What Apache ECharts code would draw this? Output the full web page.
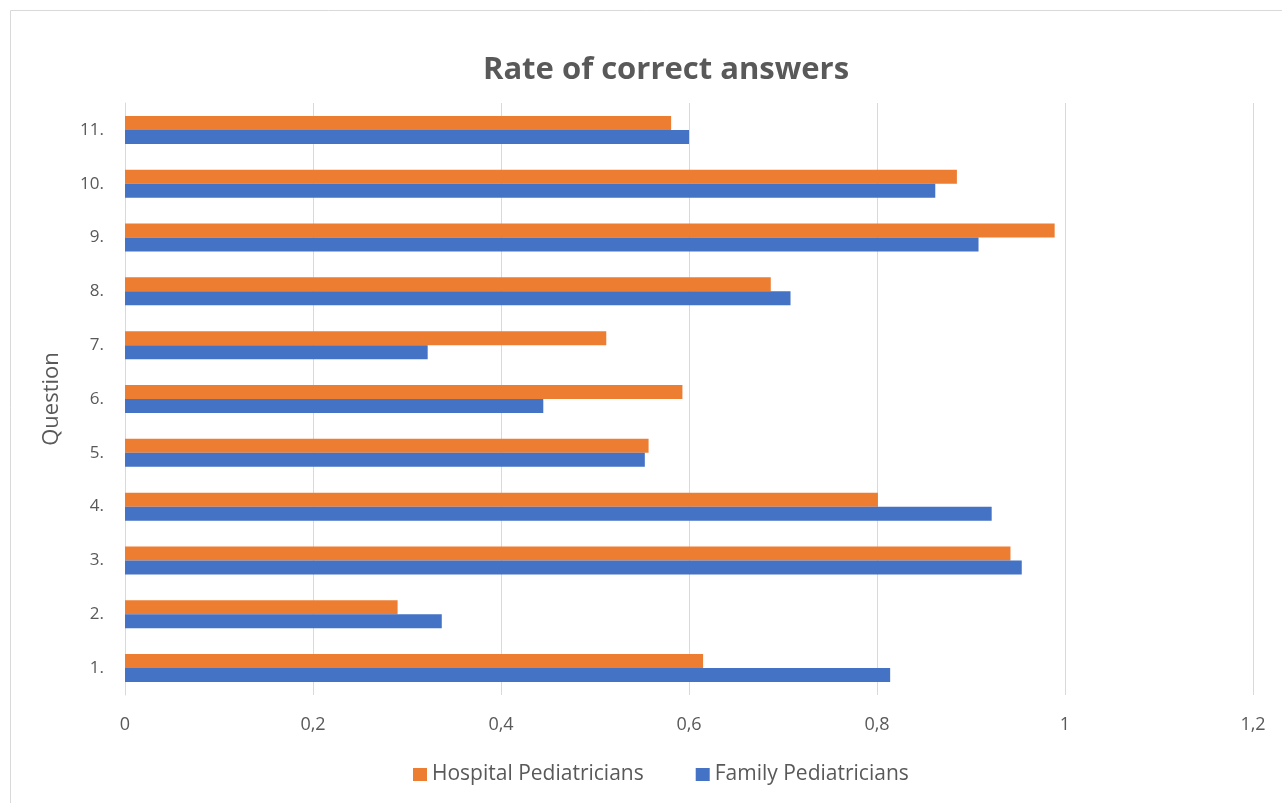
<!DOCTYPE html>
<html>
<head>
<meta charset="utf-8">
<script src="https://cdn.jsdelivr.net/npm/echarts@6/dist/echarts.min.js"></script>
<style>
  html, body { margin: 0; padding: 0; background: #fff; }
  #chart { width: 1282px; height: 803px; }
</style>
</head>
<body>
<div id="chart"></div>
<script>
const categories = ['1.', '2.', '3.', '4.', '5.', '6.', '7.', '8.', '9.', '10.', '11.'];
const familyPediatricians = [0.814, 0.337, 0.954, 0.922, 0.553, 0.445, 0.322, 0.708, 0.908, 0.862, 0.600];
const hospitalPediatricians = [0.615, 0.290, 0.942, 0.801, 0.557, 0.593, 0.512, 0.687, 0.989, 0.885, 0.581];
const xTicks = [0, 0.2, 0.4, 0.6, 0.8, 1, 1.2];

const chart = echarts.init(document.getElementById('chart'), null, { renderer: 'canvas' });
const font = '"Open Sans", "Noto Sans", sans-serif';
const option = {
  animation: false,
  backgroundColor: '#ffffff',
  graphic: [{
    type: 'rect',
    shape: { x: 10.5, y: 10.5, width: 1300, height: 820 },
    style: { fill: 'none', stroke: '#d9d9d9', lineWidth: 1 },
    silent: true
  }],
  title: {
    text: 'Rate of correct answers',
    left: 661,
    textAlign: 'center',
    top: 50,
    textStyle: { fontFamily: font, fontWeight: 'bold', fontSize: 31, color: '#595959' }
  },
  legend: {
    data: ['Hospital Pediatricians', 'Family Pediatricians'],
    left: 408,
    top: 759,
    itemWidth: 14,
    itemHeight: 13,
    itemGap: 52,
    icon: 'rect',
    textStyle: { fontFamily: font, fontSize: 21, color: '#595959' }
  },
  grid: { left: 125, right: 29, top: 103, bottom: 108, containLabel: false },
  xAxis: {
    type: 'value',
    min: 0,
    max: 1.2,
    interval: 0.2,
    axisLine: { show: false },
    axisTick: { show: false },
    splitLine: { show: true, lineStyle: { color: '#d9d9d9', width: 1 } },
    axisLabel: {
      margin: 21,
      fontFamily: font,
      fontSize: 18,
      color: '#595959',
      formatter: function (v) {
        const t = xTicks.find(x => Math.abs(x - v) < 1e-9);
        return String(t !== undefined ? t : v).replace('.', ',');
      }
    }
  },
  yAxis: {
    type: 'category',
    data: categories,
    name: 'Question',
    nameLocation: 'middle',
    nameGap: 62,
    nameRotate: 90,
    nameTextStyle: { fontFamily: font, fontSize: 22, color: '#595959' },
    axisLine: { show: true, lineStyle: { color: '#d9d9d9' } },
    axisTick: { show: false },
    axisLabel: { margin: 21, fontFamily: font, fontSize: 17, color: '#595959' }
  },
  series: [
    {
      name: 'Hospital Pediatricians',
      type: 'bar',
      data: hospitalPediatricians,
      barWidth: 14,
      barGap: '0%',
      itemStyle: { color: '#ed7d31' }
    },
    {
      name: 'Family Pediatricians',
      type: 'bar',
      data: familyPediatricians,
      barWidth: 14,
      barGap: '0%',
      itemStyle: { color: '#4472c4' }
    }
  ]
};
chart.setOption(option);
</script>
</body>
</html>
